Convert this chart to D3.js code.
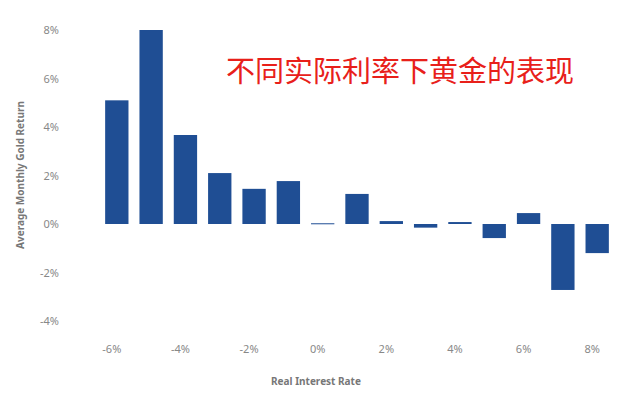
<!DOCTYPE html>
<html><head><meta charset="utf-8">
<script src="https://cdn.jsdelivr.net/npm/d3@7"></script>
<style>body{margin:0;background:#fff}text{font-family:"Noto Sans",sans-serif}</style>
</head><body><svg id="c" width="640" height="400"></svg>
<script>
const rates = [-6,-5,-4,-3,-2,-1,0,1,2,3,4,5,6,7,8];
const returns = [5.1,8.0,3.67,2.1,1.45,1.77,0.03,1.24,0.12,-0.15,0.08,-0.58,0.45,-2.72,-1.2];
const yTicks = [-4,-2,0,2,4,6,8];
const xTicks = [-6,-4,-2,0,2,4,6,8];

const svg = d3.select('#c');
const x = d3.scaleBand().domain(rates).range([100, 614]).paddingInner(0.32).paddingOuter(0.15);
const y = d3.scaleLinear().domain([-4, 8]).range([321, 30]);

svg.append('g').attr('transform', 'translate(62,0)')
    .call(d3.axisLeft(y).tickValues(yTicks).tickSize(0).tickFormat(d => d + '%'))
    .call(g => g.select('.domain').remove())
    .selectAll('text').attr('fill', '#888').style('font-size', '11px');

svg.append('g').attr('transform', 'translate(0,342)')
    .call(d3.axisBottom(x).tickValues(xTicks).tickSize(0).tickFormat(d => d + '%'))
    .call(g => g.select('.domain').remove())
    .selectAll('text').attr('fill', '#888').style('font-size', '11px').attr('dx', -5);

svg.selectAll('rect.bar').data(rates).enter().append('rect')
    .attr('class', 'bar')
    .attr('x', d => x(d))
    .attr('width', x.bandwidth())
    .attr('y', (d, i) => y(Math.max(0, returns[i])))
    .attr('height', (d, i) => Math.max(1, Math.abs(y(returns[i]) - y(0))))
    .attr('fill', '#1f4e94');

svg.append('text').attr('transform', 'translate(24,175) rotate(-90)')
    .attr('text-anchor', 'middle').attr('fill', '#777').style('font-size', '10px').style('font-weight', 'bold')
    .text('Average Monthly Gold Return');

svg.append('text').attr('x', 316).attr('y', 385).attr('text-anchor', 'middle')
    .attr('fill', '#777').style('font-size', '10px').style('font-weight', 'bold')
    .text('Real Interest Rate');

svg.append('text').attr('x', 400).attr('y', 82).attr('text-anchor', 'middle')
    .attr('fill', '#e8201a').style('font-size', '29px').style('font-family', '"Noto Sans CJK SC"')
    .text('不同实际利率下黄金的表现');
</script></body></html>
